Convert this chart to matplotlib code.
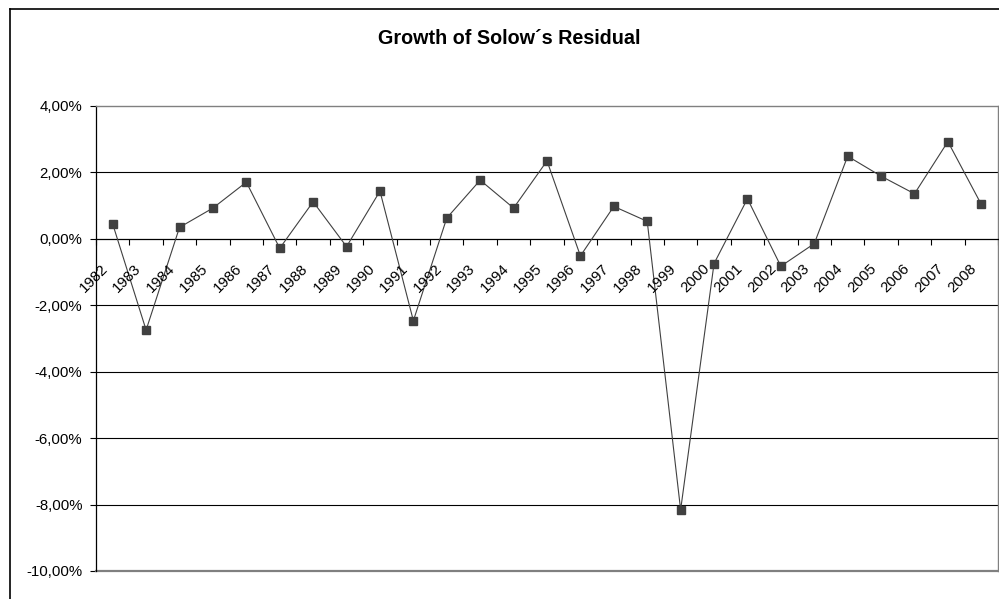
import matplotlib
matplotlib.use("Agg")
import matplotlib.pyplot as plt
import matplotlib.transforms as mtransforms
from matplotlib.lines import Line2D
from matplotlib.ticker import FuncFormatter
import numpy as np

plt.rcParams['font.family'] = ['Liberation Sans', 'DejaVu Sans']

title = "Growth of Solow\u00b4s Residual"
years = ["1982", "1983", "1984", "1985", "1986", "1987", "1988", "1989", "1990",
         "1991", "1992", "1993", "1994", "1995", "1996", "1997", "1998", "1999",
         "2000", "2001", "2002", "2003", "2004", "2005", "2006", "2007", "2008"]
residual = [0.0044, -0.0275, 0.0034, 0.0092, 0.0170, -0.0029, 0.0111, -0.0024, 0.0143,
            -0.0247, 0.0062, 0.0176, 0.0092, 0.0234, -0.0052, 0.0097, 0.0052, -0.0816,
            -0.0075, 0.0120, -0.0083, -0.0015, 0.0248, 0.0188, 0.0135, 0.0292, 0.0103]
y_ticks = [-0.10, -0.08, -0.06, -0.04, -0.02, 0.0, 0.02, 0.04]

W, H = 999, 599
fig = plt.figure(figsize=(W / 100, H / 100), dpi=100)
fig.patch.set_facecolor('white')

left_px, right_px, top_px, bottom_px = 96, 998, 105.7, 571
ax = fig.add_axes([left_px / W, 1 - bottom_px / H, (right_px - left_px) / W, (bottom_px - top_px) / H])

n = len(years)
x = np.arange(n)
ax.set_xlim(-0.5, n - 0.5)
ax.set_ylim(y_ticks[0], y_ticks[-1])

# gridlines
for yv in y_ticks[1:-1]:
    if yv != 0.0:
        ax.axhline(yv, color='black', lw=0.8, zorder=1)

ax.plot(x, residual, color='#404040', lw=0.8, marker='s', markersize=5.2,
        markerfacecolor='#404040', markeredgecolor='#404040', zorder=3)

# spines
for s in ['top', 'right']:
    ax.spines[s].set_color('#808080')
    ax.spines[s].set_linewidth(1.0)
ax.spines['left'].set_color('black')
ax.spines['left'].set_linewidth(0.9)
ax.spines['bottom'].set_position(('data', 0))
ax.spines['bottom'].set_color('black')
ax.spines['bottom'].set_linewidth(0.9)
ax.axhline(y_ticks[0], color='#808080', lw=1.6, zorder=2, clip_on=False)

# y axis
ax.set_yticks(y_ticks)
ax.yaxis.set_major_formatter(FuncFormatter(lambda v, p: f"{v*100:.2f}%".replace('.', ',')))
ax.tick_params(axis='y', direction='out', length=4.3, width=0.8, pad=5.5,
               labelsize=10.8, colors='black')

# x axis: ticks at category boundaries
ax.set_xticks(np.arange(-0.5, n, 1.0))
ax.set_xticklabels([])
ax.tick_params(axis='x', direction='out', length=4.5, width=0.8, colors='black')

offset = mtransforms.ScaledTranslation(-12 / 100, -23 / 100, fig.dpi_scale_trans)
for xi, lab in zip(x, years):
    ax.text(xi, 0, lab, transform=ax.transData + offset, rotation=45,
            rotation_mode='anchor', ha='right', va='top', fontsize=10.8, color='black')

fig.text(509 / W, 1 - 39 / H, title, ha='center', va='center', fontsize=14.2,
         fontweight='bold', color='black')

# outer chart border
fig.add_artist(Line2D([9.5 / W, 9.5 / W], [0, 1 - 8.5 / H], transform=fig.transFigure,
                      color='black', lw=1.2))
fig.add_artist(Line2D([9.5 / W, 1], [1 - 8.5 / H, 1 - 8.5 / H], transform=fig.transFigure,
                      color='black', lw=1.2))

fig.savefig('out.png', dpi=100, facecolor='white')
